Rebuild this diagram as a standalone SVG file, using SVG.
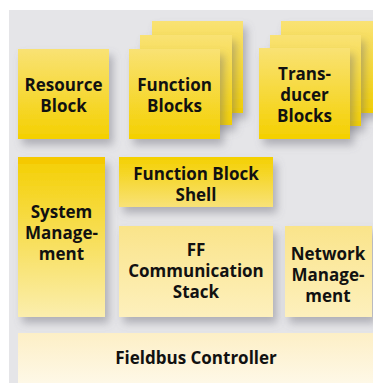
<svg xmlns="http://www.w3.org/2000/svg" width="373" height="383" viewBox="0 0 373 383">
<defs>
<linearGradient id="gTop" x1="0" y1="0" x2="0" y2="1">
<stop offset="0" stop-color="#f9e274"/>
<stop offset="1" stop-color="#f4d000"/>
</linearGradient>
<linearGradient id="gSys" x1="0" y1="0" x2="0" y2="1">
<stop offset="0" stop-color="#f4cf00"/>
<stop offset="1" stop-color="#fbeeae"/>
</linearGradient>
<linearGradient id="gShell" x1="0" y1="0" x2="0" y2="1">
<stop offset="0" stop-color="#f4d000"/>
<stop offset="1" stop-color="#f8e278"/>
</linearGradient>
<linearGradient id="gPale" x1="0" y1="0" x2="0" y2="1">
<stop offset="0" stop-color="#fae48a"/>
<stop offset="1" stop-color="#fdf0bd"/>
</linearGradient>
<linearGradient id="gCream" x1="0" y1="0" x2="0" y2="1">
<stop offset="0" stop-color="#fdefc6"/>
<stop offset="1" stop-color="#fef9ea"/>
</linearGradient>
<filter id="sh" x="-20%" y="-20%" width="150%" height="150%">
<feDropShadow dx="4" dy="6" stdDeviation="4" flood-color="#6e6e78" flood-opacity="0.45"/>
</filter>
<style>
.t{font-family:"Open Sans","Noto Sans","DejaVu Sans",sans-serif;font-weight:bold;font-size:17px;fill:#111;text-anchor:middle}
.b{filter:url(#sh)}
</style>
</defs>
<rect x="0" y="0" width="373" height="383" fill="#ffffff"/>
<rect x="9" y="10" width="364" height="373" fill="#e5e5e8"/>
<g id="connectors"/>
<g id="resource-block">
<rect class="b" x="18" y="49" width="91" height="90" fill="url(#gTop)"/>
<text class="t" x="63.5" y="91">Resource</text>
<text class="t" x="63.5" y="112">Block</text>
</g>
<g id="function-blocks">
<rect class="b" x="152" y="21" width="91" height="92" fill="url(#gTop)"/>
<rect class="b" x="140" y="35" width="92" height="90" fill="url(#gTop)"/>
<rect class="b" x="129" y="49" width="91" height="90" fill="url(#gTop)"/>
<text class="t" x="174.5" y="91">Function</text>
<text class="t" x="174.5" y="112">Blocks</text>
</g>
<g id="transducer-blocks">
<rect class="b" x="281" y="21" width="95" height="92" fill="url(#gTop)"/>
<rect class="b" x="270" y="35" width="91" height="91" fill="url(#gTop)"/>
<rect class="b" x="259" y="48" width="91" height="91" fill="url(#gTop)"/>
<text class="t" x="304.5" y="80">Trans-</text>
<text class="t" x="304.5" y="101">ducer</text>
<text class="t" x="304.5" y="122">Blocks</text>
</g>
<g id="system-management">
<rect class="b" x="18" y="157" width="87" height="160" fill="url(#gSys)"/>
<rect x="18" y="157" width="87" height="7" fill="#f5c900"/>
<text class="t" x="61.5" y="218">System</text>
<text class="t" x="61.5" y="239">Manage-</text>
<text class="t" x="61.5" y="260">ment</text>
</g>
<g id="function-block-shell">
<rect class="b" x="119" y="157" width="154" height="50" fill="url(#gShell)"/>
<text class="t" x="196" y="180">Function Block</text>
<text class="t" x="196" y="201">Shell</text>
</g>
<g id="ff-communication-stack">
<rect class="b" x="119" y="226" width="154" height="91" fill="url(#gPale)"/>
<text class="t" x="196" y="256">FF</text>
<text class="t" x="196" y="277">Communication</text>
<text class="t" x="196" y="298">Stack</text>
</g>
<g id="network-management">
<rect class="b" x="285" y="226" width="87" height="91" fill="url(#gPale)"/>
<text class="t" x="328" y="260">Network</text>
<text class="t" x="328" y="281">Manage-</text>
<text class="t" x="328" y="302">ment</text>
</g>
<g id="fieldbus-controller">
<rect x="18" y="333" width="360" height="55" fill="url(#gCream)"/>
<text class="t" x="196" y="364">Fieldbus Controller</text>
</g>
</svg>
